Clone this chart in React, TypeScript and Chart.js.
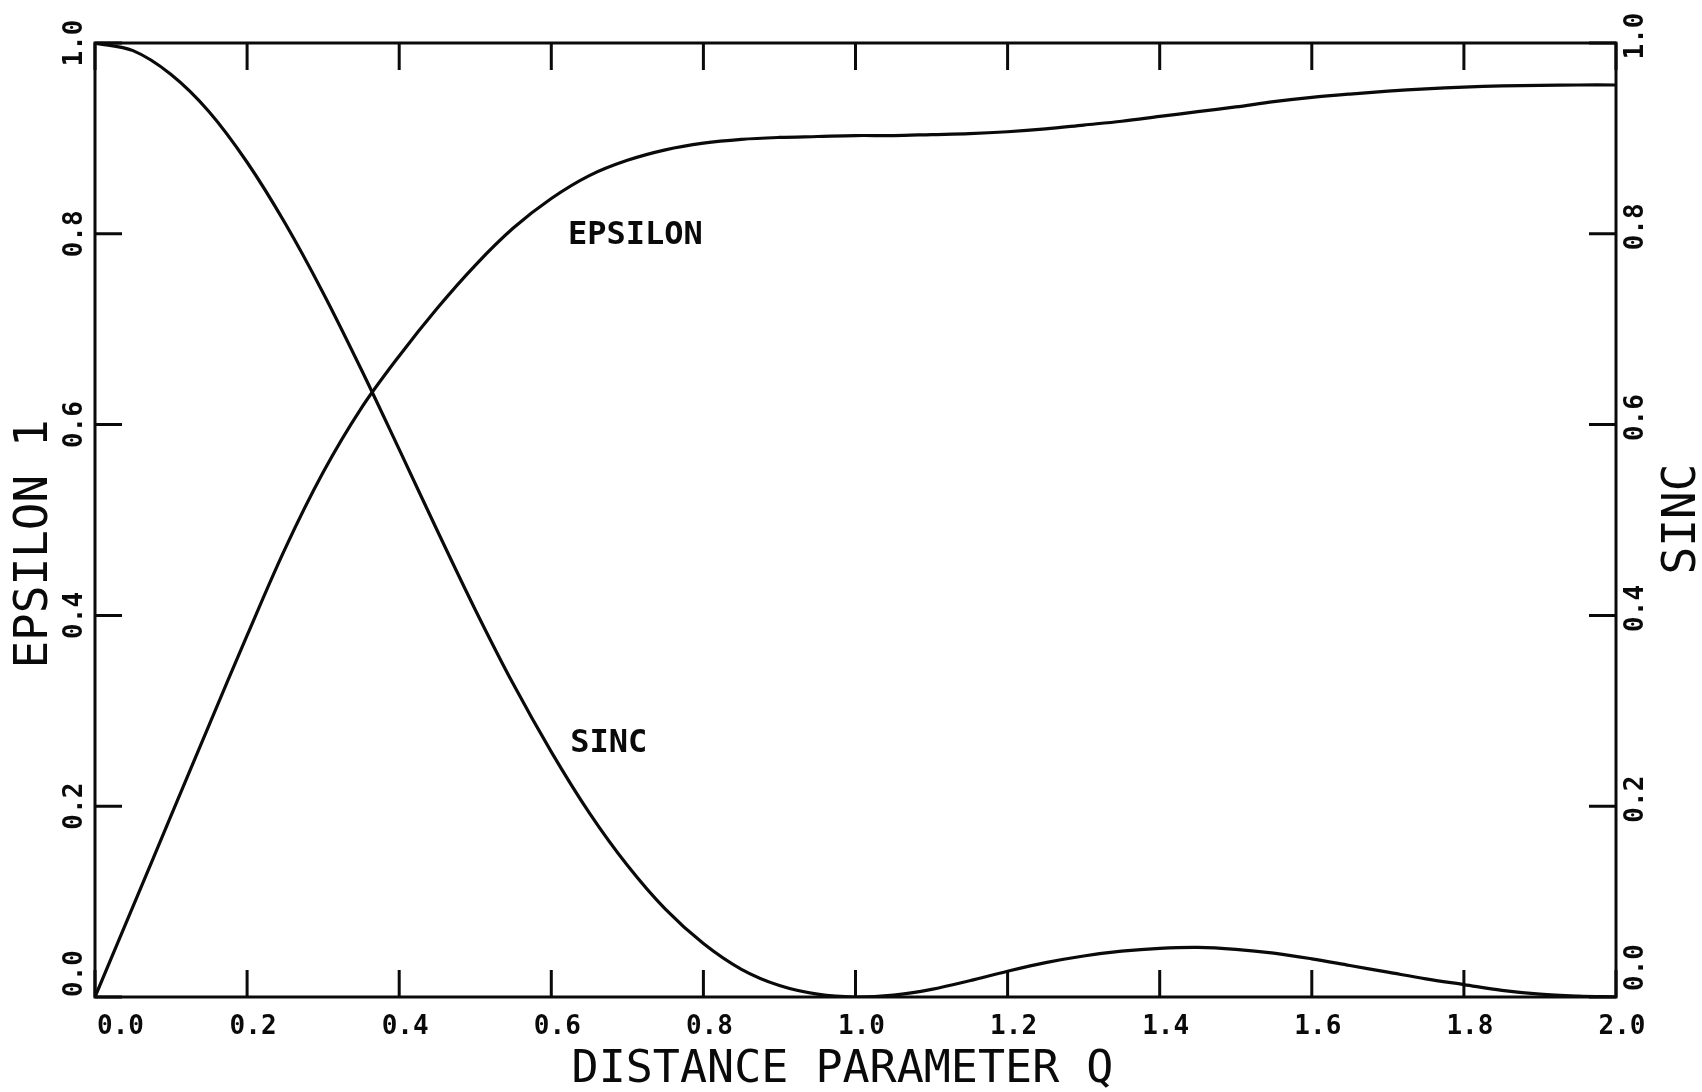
import React, { useEffect, useRef } from 'react';
import { Chart, registerables } from 'chart.js';

Chart.register(...registerables);

// ---- data ----
const Q = [
  0, 0.05, 0.1, 0.15, 0.2, 0.25, 0.3, 0.35, 0.4, 0.45, 0.5, 0.55, 0.6, 0.65, 0.7, 0.75, 0.8, 0.85, 0.9, 0.95,
  1.0, 1.05, 1.1, 1.15, 1.2, 1.25, 1.3, 1.35, 1.4, 1.45, 1.5, 1.55, 1.6, 1.65, 1.7, 1.75, 1.8, 1.85, 1.9, 1.95, 2.0,
];

const EPSILON = [
  0, 0.095, 0.19, 0.285, 0.379, 0.47, 0.55, 0.617, 0.672, 0.722, 0.767, 0.806, 0.837, 0.861, 0.877, 0.888, 0.895,
  0.899, 0.901, 0.902, 0.903, 0.903, 0.904, 0.905, 0.907, 0.91, 0.914, 0.918, 0.923, 0.928, 0.933, 0.9385, 0.943,
  0.9465, 0.9495, 0.952, 0.9538, 0.955, 0.9556, 0.956, 0.956,
];

const SINC = [
  1.0, 0.992, 0.967, 0.928, 0.875, 0.811, 0.738, 0.658, 0.574, 0.489, 0.406, 0.328, 0.257, 0.193, 0.138, 0.092,
  0.056, 0.029, 0.012, 0.003, 0.0, 0.002, 0.008, 0.017, 0.027, 0.036, 0.043, 0.048, 0.051, 0.052, 0.05, 0.046, 0.04,
  0.033, 0.026, 0.019, 0.013, 0.007, 0.003, 0.001, 0.0,
];

const X_TICKS = [0, 0.2, 0.4, 0.6, 0.8, 1.0, 1.2, 1.4, 1.6, 1.8, 2.0];
const X_TICK_LABELS = ['0.0', '0.2', '0.4', '0.6', '0.8', '1.0', '1.2', '1.4', '1.6', '1.8', '2.0'];
const Y_TICKS = [0, 0.2, 0.4, 0.6, 0.8, 1.0];
const Y_TICK_LABELS = ['0.0', '0.2', '0.4', '0.6', '0.8', '1.0'];

const X_TITLE = 'DISTANCE PARAMETER Q';
const Y_TITLE = 'EPSILON 1';
const Y2_TITLE = 'SINC';
const CURVE_NAMES = ['EPSILON', 'SINC'];
const CURVE_NAME_ANCHORS = [
  { q: 0.622, v: 0.789 },
  { q: 0.625, v: 0.257 },
];

const MONO = '"DejaVu Sans Mono", "Liberation Mono", monospace';
const INK = '#0a0a0a';

const framePlugin = {
  id: 'plotterFrame',
  afterDatasetsDraw(chart: any) {
    const { ctx, chartArea } = chart;
    const { left, right, top, bottom } = chartArea;
    const xs = chart.scales.x;
    const x2 = chart.scales.x2;
    const ys = chart.scales.y;
    const y2 = chart.scales.y2;
    const TL = 27;

    ctx.save();
    ctx.strokeStyle = INK;
    ctx.fillStyle = INK;
    ctx.lineWidth = 3;
    ctx.lineCap = 'butt';

    // frame
    ctx.strokeRect(left, top, right - left, bottom - top);

    // inward ticks
    ctx.beginPath();
    X_TICKS.forEach((v) => {
      const px = xs.getPixelForValue(v);
      ctx.moveTo(px, bottom);
      ctx.lineTo(px, bottom - TL);
      const pt = x2.getPixelForValue(v);
      ctx.moveTo(pt, top);
      ctx.lineTo(pt, top + TL);
    });
    Y_TICKS.forEach((v) => {
      const py = ys.getPixelForValue(v);
      ctx.moveTo(left, py);
      ctx.lineTo(left + TL, py);
      const pr = y2.getPixelForValue(v);
      ctx.moveTo(right, pr);
      ctx.lineTo(right - TL, pr);
    });
    ctx.stroke();

    // bottom tick labels
    ctx.font = `bold 26px ${MONO}`;
    ctx.textBaseline = 'alphabetic';
    X_TICKS.forEach((v, i) => {
      const px = xs.getPixelForValue(v);
      if (i === 0) {
        ctx.textAlign = 'left';
        ctx.fillText(X_TICK_LABELS[i], px + 2, bottom + 37);
      } else {
        ctx.textAlign = 'center';
        ctx.fillText(X_TICK_LABELS[i], px + 6, bottom + 37);
      }
    });

    // left tick labels (rotated)
    Y_TICKS.forEach((v, i) => {
      const py = ys.getPixelForValue(v);
      ctx.save();
      ctx.translate(left - 13, py);
      ctx.rotate(-Math.PI / 2);
      ctx.textAlign = i === 0 ? 'left' : 'center';
      ctx.fillText(Y_TICK_LABELS[i], 0, 0);
      ctx.restore();
    });

    // right tick labels (rotated)
    Y_TICKS.forEach((v, i) => {
      const py = y2.getPixelForValue(v);
      ctx.save();
      ctx.translate(right + 27, i === 0 ? py - 6 : py - 7);
      ctx.rotate(-Math.PI / 2);
      ctx.textAlign = i === 0 ? 'left' : 'center';
      ctx.fillText(Y_TICK_LABELS[i], 0, 0);
      ctx.restore();
    });

    // axis titles
    ctx.font = `45px ${MONO}`;
    ctx.textAlign = 'center';
    ctx.fillText(X_TITLE, (left + right) / 2 - 13, bottom + 85);

    ctx.font = `46px ${MONO}`;
    ctx.save();
    ctx.translate(left - 48, (top + bottom) / 2 + 24);
    ctx.rotate(-Math.PI / 2);
    ctx.fillText(Y_TITLE, 0, 0);
    ctx.restore();

    ctx.save();
    ctx.translate(right + 79, (top + bottom) / 2 - 1);
    ctx.rotate(-Math.PI / 2);
    ctx.fillText(Y2_TITLE, 0, 0);
    ctx.restore();

    // curve names
    ctx.font = `bold 32px ${MONO}`;
    ctx.textAlign = 'left';
    CURVE_NAMES.forEach((name, i) => {
      const a = CURVE_NAME_ANCHORS[i];
      const px = xs.getPixelForValue(a.q);
      const py = (i === 0 ? ys : y2).getPixelForValue(a.v);
      ctx.fillText(name, px, py);
    });

    ctx.restore();
  },
};

const hiddenScale = (extra: any) => ({
  type: 'linear',
  display: true,
  ticks: { display: false },
  grid: { display: false, drawTicks: false },
  border: { display: false },
  title: { display: false },
  ...extra,
});

export default function App() {
  const canvasRef = useRef<HTMLCanvasElement | null>(null);

  useEffect(() => {
    document.body.style.margin = '0';
    const canvas = canvasRef.current;
    if (!canvas) return;

    const lineStyle = {
      borderColor: INK,
      borderWidth: 3.2,
      pointRadius: 0,
      fill: false,
      tension: 0.35,
    };

    const chart = new Chart(canvas, {
      type: 'line',
      data: {
        datasets: [
          {
            label: 'EPSILON',
            data: Q.map((q, i) => ({ x: q, y: EPSILON[i] })),
            xAxisID: 'x',
            yAxisID: 'y',
            ...lineStyle,
          },
          {
            label: 'SINC',
            data: Q.map((q, i) => ({ x: q, y: SINC[i] })),
            xAxisID: 'x',
            yAxisID: 'y2',
            ...lineStyle,
          },
        ],
      },
      options: {
        animation: false,
        responsive: true,
        maintainAspectRatio: false,
        events: [],
        layout: { padding: 0 },
        plugins: {
          legend: { display: false },
          tooltip: { enabled: false },
          title: { display: false },
        },
        scales: {
          x: hiddenScale({
            axis: 'x',
            position: 'bottom',
            min: 0,
            max: 2,
            afterFit: (s: any) => {
              s.height = 95;
            },
          }),
          x2: hiddenScale({
            axis: 'x',
            position: 'top',
            min: 0,
            max: 2,
            afterFit: (s: any) => {
              s.height = 43;
            },
          }),
          y: hiddenScale({
            axis: 'y',
            position: 'left',
            min: 0,
            max: 1,
            afterFit: (s: any) => {
              s.width = 95;
            },
          }),
          y2: hiddenScale({
            axis: 'y',
            position: 'right',
            min: 0,
            max: 1,
            afterFit: (s: any) => {
              s.width = 86;
            },
          }),
        },
      } as any,
      plugins: [framePlugin],
    });

    return () => {
      chart.destroy();
    };
  }, []);

  return (
    <div style={{ position: 'absolute', left: 0, top: 0, width: 1702, height: 1092, background: '#fff' }}>
      <canvas ref={canvasRef} />
    </div>
  );
}
